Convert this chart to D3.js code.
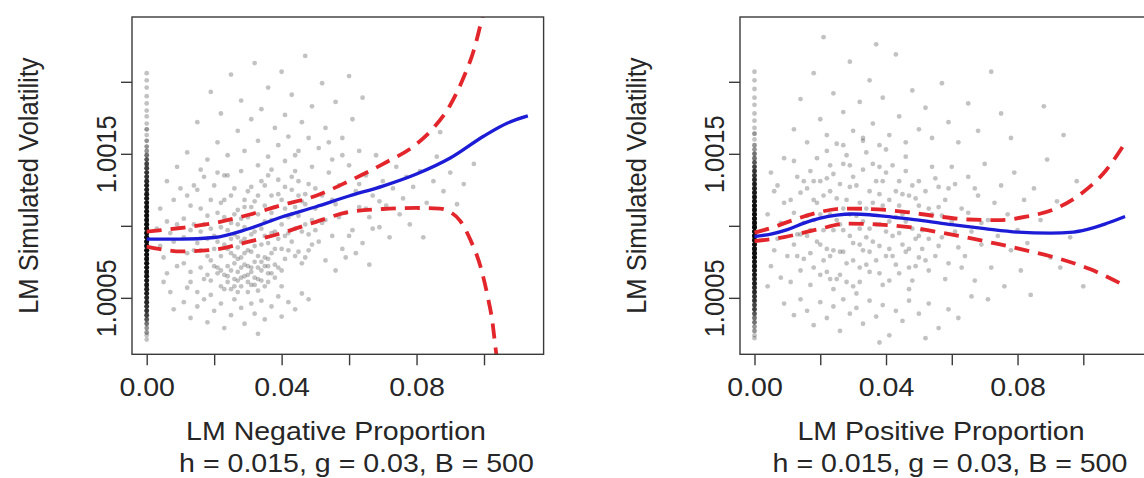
<!DOCTYPE html>
<html><head><meta charset="utf-8">
<script src="https://cdn.jsdelivr.net/npm/d3@7"></script>
<style>html,body{margin:0;padding:0;background:#fff;overflow:hidden}</style>
</head><body><svg id="c" width="1144" height="478"></svg>
<script>
// ---------- tick values ----------
const xTickValues = [0, 0.02, 0.04, 0.06, 0.08, 0.10];
const yTickValues = [1.0005, 1.001, 1.0015, 1.002];
const xAxisTitles = ["LM Negative Proportion", "LM Positive Proportion"];
const yAxisTitle = "LM Simulated Volatility";
const subTitle = "h = 0.015, g = 0.03, B = 500";

// ---------- left panel: negative proportion ----------
const negPts = [
[.004,1.00112],[.005,1.00078],[.006,1.00131],[.007,1.00095],[.005,1.00061],[.008,1.00118],[.009,1.00072],[.006,1.00103],[.004,1.00086],[.009,1.00141],[.007,1.00054],[.008,1.00089],[.010,1.00126],[.006,1.00067],[.009,1.00101],[.003,1.00098],
[.011,1.00092],[.012,1.00121],[.013,1.00068],[.011,1.00105],[.014,1.00083],[.012,1.00057],[.013,1.00114],[.014,1.00128],[.011,1.00074],[.013,1.00097],
[.015,1.00088],[.016,1.00112],[.017,1.00063],[.015,1.00125],[.018,1.00079],[.016,1.00096],[.017,1.00134],[.018,1.00107],[.015,1.00054],[.016,1.00071],[.018,1.00091],
[.019,1.00118],[.020,1.00084],[.021,1.00067],[.022,1.00099],[.019,1.00076],[.020,1.00128],[.021,1.00109],[.022,1.00058],[.020,1.00093],[.021,1.00137],[.019,1.00062],[.022,1.00116],
[.023,1.00087],[.024,1.00072],[.025,1.00121],[.026,1.00094],[.023,1.00106],[.024,1.00135],[.025,1.00081],[.026,1.00063],[.023,1.00056],[.025,1.00102],[.026,1.00126],[.024,1.00097],
[.027,1.00111],[.028,1.00089],[.029,1.00073],[.030,1.00124],[.027,1.00068],[.028,1.00138],[.029,1.00099],[.030,1.00083],[.028,1.00105],[.027,1.00092],[.030,1.00061],[.029,1.00118],
[.031,1.00094],[.032,1.00117],[.033,1.00079],[.034,1.00131],[.031,1.00071],[.032,1.00086],[.033,1.00108],[.034,1.00098],[.031,1.00127],[.033,1.00142],[.032,1.00064],[.034,1.00075],
[.035,1.00103],[.036,1.00088],[.037,1.00121],[.038,1.00096],[.035,1.00072],[.036,1.00135],[.037,1.00081],[.038,1.00113],[.036,1.00067],[.037,1.00104],[.035,1.00128],
[.039,1.00091],[.040,1.00118],[.041,1.00077],[.042,1.00106],[.039,1.00132],[.040,1.00084],[.041,1.00145],[.042,1.00095],[.040,1.00069],[.041,1.00112],
[.043,1.00125],[.044,1.00098],[.045,1.00082],[.046,1.00117],[.043,1.00089],[.044,1.00138],[.045,1.00107],[.046,1.00074],[.044,1.00113],
[.047,1.00101],[.048,1.00129],[.049,1.00087],[.050,1.00112],[.047,1.00078],[.048,1.00094],[.049,1.00141],[.050,1.00097],
[.021,1.00071],[.023,1.00066],[.025,1.00069],[.026,1.00074],[.027,1.00062],[.028,1.00071],[.029,1.00065],[.030,1.00072],[.031,1.00068],[.032,1.00075],[.033,1.00063],[.034,1.00069],[.035,1.00078],[.036,1.00061],[.037,1.00067],[.038,1.00073],[.024,1.00061],[.028,1.00058],[.031,1.00059],[.033,1.00055],[.026,1.00079],[.029,1.00081],[.035,1.00058],[.030,1.00054],[.027,1.00077],
[.012,1.00151],[.015,1.00172],[.018,1.00146],[.019,1.00193],[.021,1.00158],[.022,1.00178],[.024,1.00149],[.025,1.00205],[.027,1.00166],[.028,1.00187],[.029,1.00152],[.031,1.00174],[.032,1.00213],[.033,1.00159],[.034,1.00181],[.036,1.00148],[.036,1.00196],[.038,1.00168],[.039,1.00156],[.040,1.00207],[.041,1.00177],[.042,1.00162],[.043,1.00191],[.045,1.00152],[.046,1.00172],[.047,1.00218],[.048,1.00161],[.049,1.00183],[.051,1.00154],[.052,1.00199],[.053,1.00168],[.055,1.00146],[.056,1.00186],[.058,1.00161],[.060,1.00204],[.061,1.00174],[.063,1.00152],[.064,1.00189],[.016,1.00139],[.023,1.00135],[.037,1.00139],[.044,1.00149],
[.008,1.00042],[.011,1.00047],[.013,1.00036],[.015,1.00044],[.017,1.00049],[.018,1.00033],[.020,1.00041],[.022,1.00046],[.023,1.00029],[.025,1.00038],[.026,1.00049],[.028,1.00043],[.029,1.00032],[.031,1.00046],[.032,1.00039],[.034,1.00048],[.035,1.00035],[.037,1.00044],[.039,1.00051],[.040,1.00037],[.042,1.00047],[.044,1.00042],[.046,1.00053],[.048,1.00049],[.019,1.00052],[.027,1.00054],[.033,1.00025],
[.051,1.00089],[.052,1.00121],[.053,1.00104],[.054,1.00137],[.055,1.00093],[.056,1.00115],[.057,1.00128],[.058,1.00084],[.059,1.00109],[.060,1.00142],[.061,1.00097],[.062,1.00124],[.063,1.00113],[.064,1.00088],[.065,1.00135],[.066,1.00106],[.067,1.00121],[.068,1.00149],[.069,1.00099],[.070,1.00131],[.071,1.00114],[.072,1.00092],[.073,1.00126],[.074,1.00141],[.075,1.00108],[.076,1.00119],[.077,1.00134],[.078,1.00101],[.079,1.00127],[.053,1.00076],[.056,1.00069],[.059,1.00078],[.062,1.00081],[.066,1.00073],[.054,1.00158],[.058,1.00149],
[.081,1.00138],[.083,1.00116],[.085,1.00131],[.086,1.00148],[.088,1.00124],[.090,1.00137],[.092,1.00115],[.094,1.00129],[.097,1.00143],[.082,1.00092],[.087,1.00165],
[.016,1.00083],[.017,1.00101],[.018,1.00066],[.019,1.00098],[.020,1.00072],[.021,1.00089],[.022,1.00079],[.023,1.00118],[.024,1.00084],[.025,1.00056],[.026,1.00108],[.027,1.00085],[.028,1.00064],[.029,1.00091],[.030,1.00106],[.031,1.00082],[.032,1.00096],[.033,1.00071],[.034,1.00087],[.035,1.00093],[.036,1.00077],[.037,1.00095],[.038,1.00084],[.039,1.00071],[.040,1.00101],[.041,1.00093],[.042,1.00083],[.043,1.00108],[.044,1.00079],[.045,1.00121],[.046,1.00096],[.047,1.00115],[.048,1.00083],[.049,1.00104],[.050,1.00126],[.022,1.00069],[.024,1.00065],[.026,1.00058],[.028,1.00078],[.030,1.00066],[.032,1.00059],[.034,1.00062],[.036,1.00072],[.038,1.00064],[.040,1.00058],[.025,1.00091],[.027,1.00101],[.029,1.00113],[.031,1.00113],[.033,1.00121],[.035,1.00114],[.037,1.00109],[.039,1.00122],[.041,1.00127],[.043,1.00134],[.045,1.00131],[.047,1.00122],[.052,1.00102],[.055,1.00118],[.057,1.00106],[.060,1.00093],[.063,1.00129],[.065,1.00112],[.067,1.00098],[.069,1.00117],[.012,1.00081],[.014,1.00101],[.013,1.00061]
];
// observations at exactly 0: volatility value and how many observations share it
const negZeroY = [1.00206,1.00201,1.00196,1.00190,1.00185,1.00180,1.00176,1.00171,1.00167,1.00163,1.00159,1.00155,1.00152,1.00149,
1.00146,1.00143,1.00140,1.00137,1.00134,1.00131,1.00128,1.00125,1.00122,1.00119,1.00116,1.00113,1.00110,1.00107,1.00104,1.00101,1.00098,1.00095,1.00092,1.00089,1.00086,1.00083,1.00080,1.00077,1.00074,1.00071,1.00068,1.00065,1.00062,1.00059,1.00056,1.00053,1.00050,1.00047,1.00044,1.00041,1.00038,1.00035,1.00032,1.00029,1.00026,1.00024,1.00021];
const negZeroN = [1,1,1,1,1,1,1,1,2,1,2,2,2,3,
4,5,5,6,6,7,8,8,9,9,10,10,10,11,11,12,12,12,12,12,12,12,11,11,11,10,10,10,9,9,8,8,7,7,6,6,5,4,3,2,2,1,1];
const negFit = [[0,1.000908],[0.01,1.000908],[0.02,1.000919],[0.03,1.000978],[0.04,1.001061],[0.05,1.001131],[0.06,1.001207],[0.07,1.001276],[0.08,1.00136],[0.09,1.001471],[0.10,1.001624],[0.107,1.001714],[0.113,1.001763]];
const negUpper = [[0,1.00096],[0.01,1.000985],[0.02,1.001019],[0.03,1.001075],[0.04,1.001144],[0.05,1.001207],[0.06,1.001311],[0.07,1.001429],[0.08,1.001568],[0.085,1.001679],[0.09,1.001839],[0.094,1.002033],[0.097,1.002221],[0.0995,1.00245],[0.102,1.002707]];
const negLower = [[0,1.000856],[0.005,1.000835],[0.01,1.000822],[0.02,1.000835],[0.03,1.000888],[0.04,1.00095],[0.05,1.001026],[0.06,1.001096],[0.07,1.001117],[0.08,1.001124],[0.087,1.00112],[0.09,1.001096],[0.093,1.001033],[0.096,1.000901],[0.099,1.000714],[0.101,1.000519],[0.1025,1.000332],[0.1035,1.000137],[0.105,0.999929]];

// ---------- right panel: positive proportion ----------
const posPts = [
[.004,1.00108],[.005,1.00072],[.006,1.00124],[.007,1.00091],[.005,1.00137],[.008,1.00064],[.009,1.00116],[.006,1.00083],[.008,1.00102],[.009,1.00147],[.004,1.00058],[.007,1.00128],[.010,1.00079],
[.011,1.00118],[.012,1.00087],[.013,1.00134],[.014,1.00069],[.015,1.00102],[.011,1.00061],[.012,1.00145],[.013,1.00094],[.014,1.00123],[.015,1.00077],[.012,1.00109],
[.016,1.00093],[.017,1.00138],[.018,1.00071],[.019,1.00116],[.020,1.00087],[.016,1.00126],[.017,1.00059],[.018,1.00104],[.019,1.00147],[.020,1.00066],[.018,1.00131],[.017,1.00097],
[.021,1.00121],[.022,1.00084],[.023,1.00142],[.024,1.00097],[.025,1.00063],[.021,1.00076],[.022,1.00133],[.023,1.00108],[.024,1.00056],[.025,1.00119],[.023,1.00079],[.022,1.00152],[.024,1.00136],
[.026,1.00101],[.027,1.00143],[.028,1.00074],[.029,1.00127],[.030,1.00088],[.026,1.00066],[.027,1.00112],[.028,1.00149],[.029,1.00093],[.030,1.00058],[.028,1.00118],[.027,1.00082],[.030,1.00134],
[.031,1.00107],[.032,1.00071],[.033,1.00139],[.034,1.00092],[.035,1.00124],[.031,1.00053],[.032,1.00116],[.033,1.00083],[.034,1.00151],[.035,1.00068],[.032,1.00098],[.034,1.00112],
[.036,1.00089],[.037,1.00131],[.038,1.00067],[.039,1.00114],[.040,1.00096],[.036,1.00143],[.037,1.00076],[.038,1.00122],[.039,1.00059],[.040,1.00137],[.038,1.00101],
[.041,1.00118],[.042,1.00079],[.043,1.00106],[.044,1.00131],[.045,1.00087],[.041,1.00062],[.042,1.00142],[.043,1.00073],[.044,1.00095],[.045,1.00122],
[.046,1.00103],[.047,1.00071],[.048,1.00128],[.049,1.00091],[.050,1.00114],[.046,1.00138],[.047,1.00084],[.048,1.00062],[.049,1.00119],[.050,1.00078],
[.051,1.00097],[.052,1.00124],[.053,1.00069],[.054,1.00108],[.055,1.00133],[.056,1.00086],[.052,1.00076],[.054,1.00141],[.056,1.00113],
[.057,1.00092],[.058,1.00118],[.059,1.00074],[.060,1.00103],[.061,1.00129],[.062,1.00085],[.058,1.00063],[.060,1.00141],
[.012,1.00167],[.014,1.00188],[.016,1.00158],[.018,1.00206],[.020,1.00174],[.022,1.00163],[.024,1.00192],[.025,1.00157],[.027,1.00179],[.029,1.00214],[.030,1.00166],[.032,1.00186],[.033,1.00159],[.035,1.00201],[.036,1.00171],[.038,1.00156],[.039,1.00189],[.041,1.00163],[.043,1.00219],[.044,1.00176],[.046,1.00158],[.048,1.00194],[.050,1.00167],[.052,1.00182],[.054,1.00161],[.057,1.00199],[.059,1.00172],[.062,1.00158],[.065,1.00185],[.068,1.00166],[.072,1.00207],[.075,1.00178],[.078,1.00161],[.021,1.00231],[.037,1.00226],
[.009,1.00046],[.012,1.00038],[.014,1.00049],[.016,1.00041],[.018,1.00031],[.020,1.00047],[.022,1.00036],[.024,1.00044],[.026,1.00027],[.027,1.00049],[.029,1.00039],[.031,1.00043],[.033,1.00032],[.035,1.00048],[.037,1.00037],[.039,1.00045],[.041,1.00024],[.043,1.00041],[.045,1.00034],[.047,1.00048],[.050,1.00039],[.053,1.00046],[.056,1.00029],[.059,1.00042],[.062,1.00036],[.038,1.00019],[.052,1.00022],
[.063,1.00112],[.064,1.00079],[.065,1.00134],[.066,1.00096],[.067,1.00062],[.068,1.00121],[.069,1.00087],[.070,1.00143],[.071,1.00104],[.072,1.00071],[.073,1.00116],[.074,1.00093],[.075,1.00128],[.076,1.00058],[.077,1.00108],[.078,1.00083],[.079,1.00137],[.080,1.00097],[.081,1.00069],[.082,1.00118],[.083,1.00088],[.084,1.00052],[.085,1.00126],[.066,1.00051],[.071,1.00049],
[.087,1.00104],[.089,1.00146],[.090,1.00078],[.092,1.00117],[.094,1.00163],[.096,1.00092],[.098,1.00131],[.100,1.00058],[.088,1.00183],[.093,1.00071],
[.016,1.00107],[.017,1.00081],[.018,1.00118],[.019,1.00089],[.020,1.00108],[.021,1.00097],[.022,1.00068],[.023,1.00124],[.024,1.00083],[.025,1.00104],[.026,1.00129],[.027,1.00097],[.028,1.00061],[.029,1.00108],[.030,1.00076],[.031,1.00128],[.032,1.00087],[.033,1.00103],[.034,1.00073],[.035,1.00098],[.036,1.00116],[.037,1.00101],[.038,1.00086],[.039,1.00131],[.040,1.00079],[.041,1.00103],[.042,1.00093],[.043,1.00124],[.044,1.00067],[.045,1.00108],[.046,1.00082],[.047,1.00121],[.048,1.00098],[.049,1.00072],[.050,1.00131],[.051,1.00084],[.053,1.00112],[.055,1.00079],[.057,1.00107],[.059,1.00126],[.061,1.00096],[.063,1.00071],[.065,1.00109],[.067,1.00126],[.069,1.00102],[.020,1.00131],[.023,1.00063],[.026,1.00082],[.029,1.00142],[.032,1.00061],[.035,1.00082],[.038,1.00141],[.041,1.00084],[.044,1.00114],[.047,1.00056],[.050,1.00093],[.053,1.00091],[.056,1.00127],[.014,1.00094],[.013,1.00079],[.015,1.00131],[.027,1.00156],[.033,1.00161],[.040,1.00153],[.046,1.00148]
];
const posZeroY = [1.00207,1.00201,1.00195,1.00189,1.00184,1.00178,1.00173,1.00168,1.00164,1.0016,1.00156,1.00153,1.0015,
1.00147,1.00144,1.00141,1.00138,1.00135,1.00132,1.00129,1.00126,1.00123,1.0012,1.00117,1.00114,1.00111,1.00108,1.00105,1.00102,1.00099,1.00096,1.00093,1.0009,1.00087,1.00084,1.00081,1.00078,1.00075,1.00072,1.00069,1.00066,1.00063,1.0006,1.00057,1.00054,1.00051,1.00048,1.00045,1.00042,1.00039,1.00036,1.00033,1.0003,1.00027,1.00024,1.00022];
const posZeroN = [1,1,1,1,1,1,1,1,2,1,2,2,3,
3,4,5,6,6,7,8,8,9,10,10,11,11,12,12,12,13,13,13,12,12,12,11,11,10,10,9,9,8,8,7,7,6,6,5,5,4,3,3,2,2,1,1];
const posFit = [[0,1.000926],[0.005,1.000943],[0.01,1.000974],[0.015,1.001019],[0.02,1.001054],[0.025,1.001075],[0.03,1.001082],[0.035,1.001077],[0.04,1.001065],[0.05,1.00104],[0.06,1.001009],[0.07,1.000981],[0.08,1.000957],[0.09,1.00095],[0.097,1.000957],[0.101,1.000974],[0.107,1.001016],[0.1127,1.001065]];
const posUpper = [[0,1.000953],[0.005,1.000985],[0.01,1.001026],[0.018,1.001085],[0.027,1.00112],[0.035,1.001117],[0.045,1.001099],[0.055,1.001068],[0.065,1.001044],[0.074,1.00104],[0.083,1.001065],[0.092,1.001124],[0.1,1.001235],[0.107,1.001388],[0.1125,1.001568]];
const posLower = [[0,1.000894],[0.009,1.000922],[0.019,1.000974],[0.028,1.001016],[0.037,1.00101],[0.048,1.000988],[0.055,1.00096],[0.064,1.000922],[0.074,1.000874],[0.084,1.000822],[0.094,1.000763],[0.102,1.0007],[0.108,1.000638],[0.1122,1.000589]];

// ---------- drawing ----------
const svg = d3.select("#c");
const FONT = "'Liberation Sans', Arial, Helvetica, sans-serif";
const FS = 25.5, SX = 1.12, TXT = "#262626", AX = "#3a3a3a";
const yDomain = [1.000108, 1.00245];

const defs = svg.append("defs");
defs.append("filter").attr("id","soft").attr("x","-5%").attr("y","-5%").attr("width","110%").attr("height","110%")
  .append("feGaussianBlur").attr("stdDeviation",0.7);

const panels = [
  {key:"neg", box:[132,543.6,17,354.3], xDom:[-0.00436,0.11767], pts:negPts, zy:negZeroY, zn:negZeroN,
   fit:negFit, up:negUpper, lo:negLower, title:xAxisTitles[0], tc:336, sc:356.5},
  {key:"pos", box:[740,1146,17,354.3], xDom:[-0.00441,0.11907], pts:posPts, zy:posZeroY, zn:posZeroN,
   fit:posFit, up:posUpper, lo:posLower, title:xAxisTitles[1], tc:941, sc:950}
];

panels.forEach(p => {
  const [x0,x1,y0,y1] = p.box;
  const x = d3.scaleLinear().domain(p.xDom).range([x0,x1]);
  const y = d3.scaleLinear().domain(yDomain).range([y1,y0]);
  const g = svg.append("g");
  g.append("clipPath").attr("id","clip-"+p.key)
    .append("rect").attr("x",x0).attr("y",y0).attr("width",x1-x0).attr("height",y1-y0);
  const plot = g.append("g").attr("clip-path",`url(#clip-${p.key})`);

  const zeroPts = p.zy.flatMap((v,i)=>Array.from({length:p.zn[i]},()=>[0,v]));
  plot.append("g").attr("filter","url(#soft)")
    .selectAll("circle").data(p.pts.concat(zeroPts)).join("circle")
    .attr("cx",d=>x(d[0])).attr("cy",d=>y(d[1])).attr("r",2.4)
    .attr("fill","#000").attr("fill-opacity",0.24);

  const line = d3.line().x(d=>x(d[0])).y(d=>y(d[1])).curve(d3.curveMonotoneX);
  plot.append("path").datum(p.fit).attr("d",line).attr("fill","none")
    .attr("stroke","#1c1cd6").attr("stroke-width",3.3);
  [p.up,p.lo].forEach(arr=>{
    plot.append("path").datum(arr).attr("d",line).attr("fill","none")
      .attr("stroke","#e3262b").attr("stroke-width",3.8).attr("stroke-dasharray","15,9");
  });

  // box
  g.append("rect").attr("x",x0).attr("y",y0).attr("width",x1-x0).attr("height",y1-y0)
    .attr("fill","none").attr("stroke",AX).attr("stroke-width",1.4);

  // x axis
  const xa = g.append("g").attr("transform",`translate(0,${y1})`)
    .call(d3.axisBottom(x).tickValues(xTickValues).tickSize(11).tickSizeOuter(0)
      .tickFormat((d,i)=> i%2===0 ? d3.format(".2f")(d) : ""));
  xa.select(".domain").remove();
  xa.selectAll(".tick line").attr("stroke",AX).attr("stroke-width",1.4);
  xa.attr("font-family",FONT).attr("font-size",FS);
  xa.selectAll(".tick text").attr("y",null).attr("dy",null).attr("fill",TXT)
    .attr("transform",`translate(0,42) scale(${SX},1)`);

  // y axis
  const ya = g.append("g").attr("transform",`translate(${x0},0)`)
    .call(d3.axisLeft(y).tickValues(yTickValues).tickSize(11).tickSizeOuter(0)
      .tickFormat((d,i)=> i%2===0 ? d3.format(".4f")(d) : ""));
  ya.select(".domain").remove();
  ya.selectAll(".tick line").attr("stroke",AX).attr("stroke-width",1.4);
  ya.attr("font-family",FONT).attr("font-size",FS);
  ya.selectAll(".tick text").attr("x",0).attr("dy",null).attr("fill",TXT)
    .attr("text-anchor","middle")
    .attr("transform",`translate(-16.5,0) scale(${SX},1) rotate(-90)`);

  // titles
  const t = (txt,tx,ty,rot) => g.append("text").text(txt)
    .attr("font-family",FONT).attr("font-size",FS).attr("fill",TXT).attr("text-anchor","middle")
    .attr("transform",`translate(${tx},${ty}) scale(${SX},1)` + (rot?" rotate(-90)":""));
  t(yAxisTitle, x0-94.5, (y0+y1)/2, true);
  t(p.title, p.tc, 440, false);
  t(subTitle, p.sc, 472, false);
});
</script>
</body></html>
